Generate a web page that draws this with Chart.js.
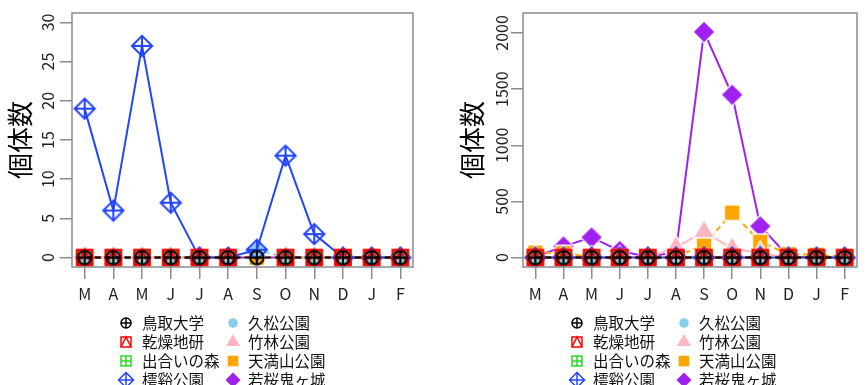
<!DOCTYPE html>
<html>
<head>
<meta charset="utf-8">
<script src="https://cdn.jsdelivr.net/npm/chart.js@4"></script>
<style>
  html, body { margin: 0; padding: 0; background: #fff; }
  #wrap { position: relative; width: 867px; height: 385px; }
  canvas { position: absolute; top: 0; }
  #left { left: 0; }
  #right { left: 433px; }
</style>
</head>
<body>
<div id="wrap">
  <canvas id="left" width="433" height="385"></canvas>
  <canvas id="right" width="434" height="385"></canvas>
</div>
<script>
const months = ['M', 'A', 'M', 'J', 'J', 'A', 'S', 'O', 'N', 'D', 'J', 'F'];
const sites = ['鳥取大学', '乾燥地研', '出合いの森', '樗谿公園', '久松公園', '竹林公園', '天満山公園', '若桜鬼ヶ城'];
const colors = ['#000000', '#ff0000', '#22dd22', '#2244ff', '#87ceeb', '#ffb6c1', '#ffa500', '#a020f0'];
const pchs = [10, 14, 12, 9, 16, 17, 15, 18];
const dashes = [[6, 4], [6, 4], [6, 4], [], [6, 4], [], [6, 4], []];

// left panel
const leftYTicks   = [0, 5, 10, 15, 20, 25, 30];
const leftTottori  = [0, 0, 0, 0, 0, 0, 0, 0, 0, 0, 0, 0];
const leftKansou   = [0, 0, 0, 0, 0, 0, null, 0, 0, 0, 0, 0];
const leftDeai     = [0, 0, 0, 0, 0, 0, null, 0, 0, 0, 0, 0];
const leftOuchi    = [19, 6, 27, 7, 0, 0, 1, 13, 3, 0, 0, 0];
const leftHisa     = [0, 0, 0, 0, 0, 0, 1, 0, 0, 0, 0, 0];
const leftChikurin = [0, 0, 0, 0, 0, 0, null, 0, 0, 0, 0, 0];
const leftTenman   = [0, 0, 0, 0, 0, 0, 0, 0, 0, 0, 0, 0];
const leftWakasa   = [0, 0, 0, 0, 0, 0, 0, 0, 0, 0, 0, 0];

// right panel
const rightYTicks   = [0, 500, 1000, 1500, 2000];
const rightTottori  = [0, 0, 0, 0, 0, 0, 0, 0, 0, 0, 0, 0];
const rightKansou   = [0, 0, 0, 0, 0, 0, 0, 0, 0, 0, 0, 0];
const rightDeai     = [0, 0, 0, 0, 0, 0, 0, 0, 0, 0, 0, 0];
const rightOuchi    = [0, 0, 0, 0, 0, 0, 0, 0, 0, 0, 0, 0];
const rightHisa     = [0, 0, 0, 0, 0, 0, 0, 0, 0, 0, 0, 0];
const rightChikurin = [0, 0, 0, 0, 0, 90, 230, 80, 40, 0, 0, 0];
const rightTenman   = [45, 40, 5, 0, 0, 10, 110, 400, 140, 30, 25, 5];
const rightWakasa   = [5, 100, 180, 60, 5, 50, 2010, 1450, 280, 10, 0, 0];

const FONT = '"Noto Sans CJK JP", "Noto Sans", sans-serif';
Chart.defaults.font.family = FONT;

// R style plotting symbols as small canvases
function pchImage(pch, color, k, plot) {
  const size = Math.ceil(26 * k);
  const c = document.createElement('canvas');
  c.width = c.height = size;
  const g = c.getContext('2d');
  const m = size / 2;
  g.lineWidth = 1.5 * k;
  g.strokeStyle = color;
  g.fillStyle = color;
  const plus = (h) => {
    g.beginPath();
    g.moveTo(m - h, m); g.lineTo(m + h, m);
    g.moveTo(m, m - h); g.lineTo(m, m + h);
    g.stroke();
  };
  const filled = (path) => {
    if (plot) {
      path(); g.strokeStyle = '#fff'; g.lineWidth = 2.5; g.stroke();
    }
    path(); g.fill();
  };
  if (pch === 10) {
    const r = 5 * k;
    g.beginPath(); g.arc(m, m, r, 0, Math.PI * 2); g.stroke();
    plus(r);
  } else if (pch === 14) {
    const h = (plot ? 5.6 : 5) * k;
    if (plot) g.lineWidth = 2.6;
    g.strokeRect(m - h, m - h, 2 * h, 2 * h);
    g.beginPath(); g.moveTo(m - h, m + h); g.lineTo(m, m - h); g.lineTo(m + h, m + h); g.stroke();
  } else if (pch === 12) {
    const h = 5 * k;
    g.strokeRect(m - h, m - h, 2 * h, 2 * h);
    plus(h);
  } else if (pch === 9) {
    const d = 7.5 * k;
    g.beginPath(); g.moveTo(m - d, m); g.lineTo(m, m - d); g.lineTo(m + d, m); g.lineTo(m, m + d); g.closePath(); g.stroke();
    plus(d);
  } else if (pch === 16) {
    const r = 4.8 * k;
    filled(() => { g.beginPath(); g.arc(m, m, r, 0, Math.PI * 2); });
  } else if (pch === 17) {
    const w = 7 * k, ht = w * Math.sqrt(3);
    filled(() => {
      g.beginPath();
      g.moveTo(m - w, m + ht / 3); g.lineTo(m, m - 2 * ht / 3); g.lineTo(m + w, m + ht / 3); g.closePath();
    });
  } else if (pch === 15) {
    const h = 5.3 * k;
    filled(() => { g.beginPath(); g.rect(m - h, m - h, 2 * h, 2 * h); });
  } else if (pch === 18) {
    const d = 7.5 * k;
    filled(() => {
      g.beginPath(); g.moveTo(m - d, m); g.lineTo(m, m - d); g.lineTo(m + d, m); g.lineTo(m, m + d); g.closePath();
    });
  }
  return c;
}

const plotMarks = pchs.map((p, i) => pchImage(p, colors[i], 1.35, true));
const legendMarks = pchs.map((p, i) => pchImage(p, colors[i], 1, false));

const framePlugin = {
  id: 'frame',
  afterDraw(chart, args, opts) {
    const { ctx, chartArea: a } = chart;
    const ys = chart.scales.y;
    ctx.save();
    ctx.strokeStyle = '#8c8c8c';
    ctx.lineWidth = 1.5;
    ctx.strokeRect(a.left, a.top, a.right - a.left, a.bottom - a.top);

    // rotated y tick labels, like R's default las = 0
    ctx.fillStyle = '#222';
    ctx.font = '16px ' + FONT;
    ctx.textAlign = 'center';
    ctx.textBaseline = 'middle';
    ys.ticks.forEach(t => {
      ctx.save();
      ctx.translate(a.left - opts.labelOff, ys.getPixelForValue(t.value));
      ctx.rotate(-Math.PI / 2);
      ctx.fillText(String(t.value), 0, 0);
      ctx.restore();
    });

    ctx.save();
    ctx.fillStyle = '#000';
    ctx.font = '26px ' + FONT;
    ctx.translate(a.left - opts.titleOff, (a.top + a.bottom) / 2);
    ctx.rotate(-Math.PI / 2);
    ctx.fillText('個体数', 0, 0);
    ctx.restore();

    // legend in two columns
    ctx.font = '15.5px ' + FONT;
    ctx.textAlign = 'left';
    ctx.fillStyle = '#111';
    sites.forEach((name, i) => {
      const col = Math.floor(i / 4), row = i % 4;
      const y = 323 + row * 19;
      const sx = a.left + (col ? 161 : 54);
      const tx = a.left + (col ? 176 : 70);
      const img = legendMarks[i];
      ctx.drawImage(img, Math.round(sx - img.width / 2), Math.round(y - img.height / 2));
      ctx.fillText(name, tx, y);
    });
    ctx.restore();
  }
};
Chart.register(framePlugin);

function makeChart(id, series, yMin, yMax, yTicks, frame) {
  return new Chart(document.getElementById(id), {
    type: 'line',
    data: {
      datasets: sites.map((name, i) => ({
        label: name,
        data: series[i].map((v, j) => ({ x: j + 1, y: v })),
        borderColor: colors[i],
        backgroundColor: colors[i],
        borderWidth: 2,
        borderDash: dashes[i],
        pointStyle: plotMarks[i],
        pointRadius: 8,
        fill: false,
        tension: 0
      }))
    },
    options: {
      responsive: false,
      animation: false,
      devicePixelRatio: 1,
      events: [],
      layout: { padding: { left: 0, top: 13, right: frame.right, bottom: 0 } },
      plugins: {
        legend: { display: false },
        tooltip: { enabled: false },
        frame: frame
      },
      scales: {
        x: {
          type: 'linear',
          min: 0.56,
          max: 12.44,
          afterFit(s) { s.height = 118; },
          afterBuildTicks(s) { s.ticks = months.map((m, i) => ({ value: i + 1 })); },
          border: { display: false },
          grid: { drawOnChartArea: false, tickLength: 12, color: '#8c8c8c', lineWidth: 1.5 },
          ticks: {
            autoSkip: false,
            maxRotation: 0,
            padding: 5,
            color: '#222',
            font: { size: 16 },
            callback: v => months[Math.round(v) - 1]
          }
        },
        y: {
          min: yMin,
          max: yMax,
          afterFit(s) { s.width = frame.left; },
          afterBuildTicks(s) { s.ticks = yTicks.map(v => ({ value: v })); },
          border: { display: false },
          grid: { drawOnChartArea: false, tickLength: 12, color: '#8c8c8c', lineWidth: 1.5 },
          ticks: { display: false }
        }
      }
    }
  });
}

makeChart('left',
  [leftTottori, leftKansou, leftDeai, leftOuchi, leftHisa, leftChikurin, leftTenman, leftWakasa],
  -1.2, 31.2, leftYTicks, { left: 72, right: 20, labelOff: 24, titleOff: 52 });

makeChart('right',
  [rightTottori, rightKansou, rightDeai, rightOuchi, rightHisa, rightChikurin, rightTenman, rightWakasa],
  -84, 2178, rightYTicks, { left: 90, right: 4, labelOff: 21, titleOff: 51 });
</script>
</body>
</html>
